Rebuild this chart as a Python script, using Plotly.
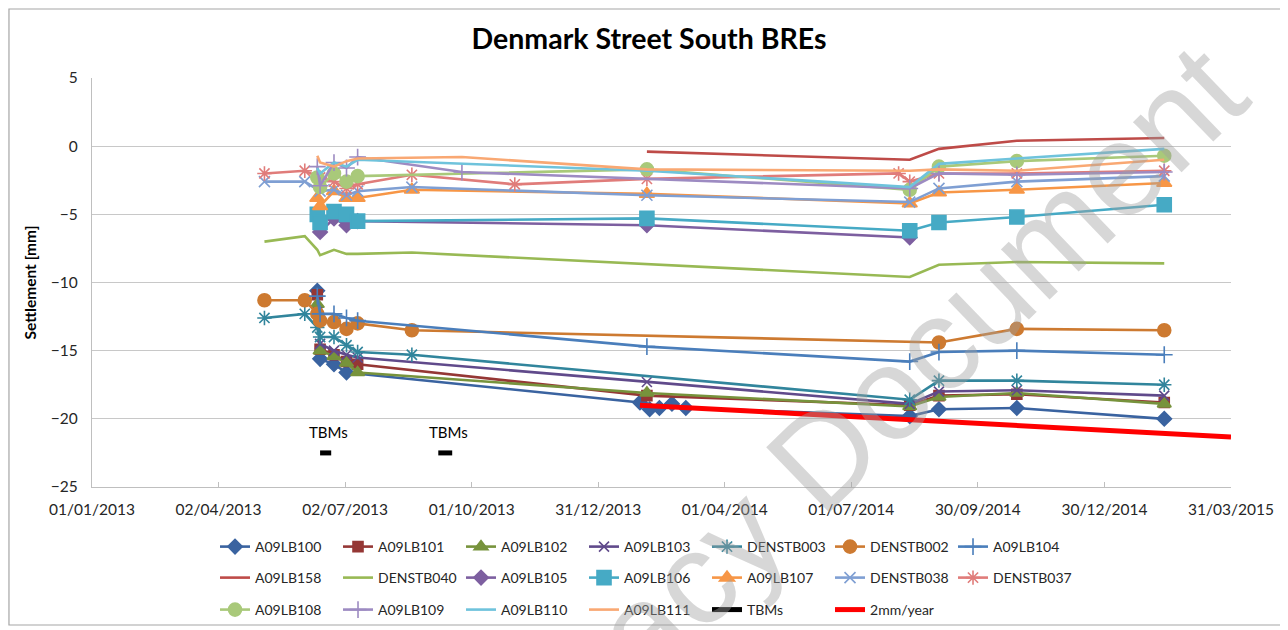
import plotly.graph_objects as go

# ---- dates (survey dates) ----
D0 = "2013-05-05"; D1 = "2013-06-03"; D2 = "2013-06-12"; D3 = "2013-06-14"
D4 = "2013-06-24"; D5 = "2013-07-03"; D6 = "2013-07-11"; D7 = "2013-08-19"
D7b = "2013-09-24"; D8 = "2013-11-01"; D9 = "2014-02-04"; D10 = "2014-08-12"
D11 = "2014-09-02"; D12 = "2014-10-28"; D13 = "2015-02-11"

# ---- series data (settlement in mm) ----
A09LB100_x = [D2, D3, D4, D5, "2014-01-30", "2014-02-06", "2014-02-13", "2014-02-22", "2014-03-04", D10, D11, D12, D13]
A09LB100_y = [-10.6, -15.6, -16.0, -16.6, -18.8, -19.3, -19.2, -18.9, -19.2, -19.8, -19.3, -19.2, -20.0]

A09LB101_x = [D2, D3, D4, D5, D6, D9, D10, D11, D12, D13]
A09LB101_y = [-10.9, -14.9, -15.3, -15.8, -16.0, -18.3, -19.0, -18.3, -18.2, -18.8]

A09LB102_x = [D2, D3, D4, D5, D6, D9, D10, D11, D12, D13]
A09LB102_y = [-11.6, -15.0, -15.4, -15.9, -16.6, -18.1, -19.1, -18.4, -18.1, -18.9]

A09LB103_x = [D2, D3, D4, D5, D6, D9, D10, D11, D12, D13]
A09LB103_y = [-12.2, -14.5, -15.0, -15.3, -15.5, -17.3, -18.9, -18.0, -17.9, -18.3]

DENSTB003_x = [D0, D1, D2, D3, D4, D5, D6, D7, D10, D11, D12, D13]
DENSTB003_y = [-12.6, -12.3, -13.3, -14.0, -14.0, -14.6, -15.1, -15.3, -18.6, -17.2, -17.2, -17.5]

DENSTB002_x = [D0, D1, D2, D3, D4, D5, D6, D7, D11, D12, D13]
DENSTB002_y = [-11.3, -11.3, -12.3, -12.8, -12.9, -13.4, -13.0, -13.5, -14.4, -13.4, -13.5]

A09LB104_x = [D2, D3, D4, D5, D6, D9, D10, D11, D12, D13]
A09LB104_y = [-11.0, -12.3, -12.3, -12.6, -12.8, -14.7, -15.8, -15.1, -15.0, -15.3]

A09LB158_x = [D9, D10, D11, D12, D13]
A09LB158_y = [-0.4, -1.0, -0.2, 0.4, 0.6]

DENSTB040_x = [D0, D1, D2, D3, D4, D5, D6, D7, D10, D11, D12, D13]
DENSTB040_y = [-7.0, -6.6, -7.6, -8.0, -7.6, -7.9, -7.9, -7.8, -9.6, -8.7, -8.5, -8.6]

A09LB105_x = [D3, D4, D5, D6, D9, D10]
A09LB105_y = [-6.3, -5.3, -5.8, -5.5, -5.8, -6.7]

A09LB106_x = [D2, D3, D4, D5, D6, D9, D10, D11, D12, D13]
A09LB106_y = [-5.0, -5.6, -4.8, -5.0, -5.5, -5.3, -6.2, -5.6, -5.2, -4.3]

A09LB107_x = [D2, D3, D4, D5, D6, D7, D9, D10, D11, D12, D13]
A09LB107_y = [-3.8, -4.4, -3.3, -3.8, -3.8, -3.2, -3.5, -4.2, -3.4, -3.2, -2.7]

DENSTB038_x = [D0, D1, D3, D4, D5, D6, D7, D9, D10, D11, D12, D13]
DENSTB038_y = [-2.6, -2.6, -3.3, -3.2, -3.6, -3.3, -3.0, -3.6, -4.1, -3.1, -2.6, -2.2]

DENSTB037_x = [D0, D1, D3, D4, D5, D6, D7, D8, D9, "2014-08-04", D10, D11, D12, D13]
DENSTB037_y = [-2.0, -1.8, -2.3, -2.6, -3.1, -2.8, -2.1, -2.8, -2.4, -2.0, -2.6, -2.0, -2.0, -1.8]

A09LB108_x = [D2, D3, D4, D5, D6, D9, D10, D11, D12, D13]
A09LB108_y = [-2.3, -3.0, -2.0, -2.6, -2.2, -1.7, -3.2, -1.5, -1.1, -0.7]

A09LB109_x = [D2, D3, D4, D5, D6, D7b, D10, D11, D12, D13]
A09LB109_y = [-1.5, -2.9, -1.2, -1.6, -0.8, -1.9, -3.1, -2.0, -2.1, -1.9]

A09LB110_x = [D2, D3, D4, D5, D6, D7b, D9, D10, D11, D12, D13]
A09LB110_y = [-1.6, -2.0, -1.2, -1.5, -1.0, -1.3, -1.8, -3.0, -1.3, -0.9, -0.2]

A09LB111_x = [D2, D3, D4, D5, D6, D7b, D9, D10, D11, D12, D13]
A09LB111_y = [-0.7, -1.2, -1.5, -1.1, -0.9, -0.8, -1.7, -1.8, -1.7, -1.8, -1.0]

TBMs_x = ["2013-06-14", "2013-06-22", None, "2013-09-07", "2013-09-17"]
TBMs_y = [-22.5, -22.5, None, -22.5, -22.5]

rate_x = ["2014-01-30", "2015-03-31"]
rate_y = [-19.0, -21.33]

tick_vals = ["2013-01-01", "2013-04-02", "2013-07-02", "2013-10-01", "2013-12-31",
             "2014-04-01", "2014-07-01", "2014-09-30", "2014-12-30", "2015-03-31"]
tick_text = ["01/01/2013", "02/04/2013", "02/07/2013", "01/10/2013", "31/12/2013",
             "01/04/2014", "01/07/2014", "30/09/2014", "30/12/2014", "31/03/2015"]

# ---- styles: (name, x, y, color, symbol, size, legend) ----
series = [
    ("A09LB100", A09LB100_x, A09LB100_y, "#3A63A0", "diamond", 11, "legend"),
    ("A09LB101", A09LB101_x, A09LB101_y, "#953735", "square", 10, "legend"),
    ("A09LB102", A09LB102_x, A09LB102_y, "#77933C", "triangle-up", 12, "legend"),
    ("A09LB103", A09LB103_x, A09LB103_y, "#604A8B", "x-thin-open", 10, "legend"),
    ("DENSTB003", DENSTB003_x, DENSTB003_y, "#31859C", "asterisk-open", 12, "legend"),
    ("DENSTB002", DENSTB002_x, DENSTB002_y, "#CD7A31", "circle", 13, "legend"),
    ("A09LB104", A09LB104_x, A09LB104_y, "#4A7EBB", "cross-thin-open", 12, "legend"),
    ("A09LB158", A09LB158_x, A09LB158_y, "#BE4B48", None, 0, "legend2"),
    ("DENSTB040", DENSTB040_x, DENSTB040_y, "#98B954", None, 0, "legend2"),
    ("A09LB105", A09LB105_x, A09LB105_y, "#7D5FA0", "diamond", 11, "legend2"),
    ("A09LB106", A09LB106_x, A09LB106_y, "#46AAC5", "square", 14, "legend2"),
    ("A09LB107", A09LB107_x, A09LB107_y, "#F79646", "triangle-up", 13, "legend2"),
    ("DENSTB038", DENSTB038_x, DENSTB038_y, "#7F9FD3", "x-thin-open", 11, "legend2"),
    ("DENSTB037", DENSTB037_x, DENSTB037_y, "#E07C7A", "asterisk-open", 12, "legend2"),
    ("A09LB108", A09LB108_x, A09LB108_y, "#A9C97A", "circle", 13, "legend3"),
    ("A09LB109", A09LB109_x, A09LB109_y, "#9D8BC2", "cross-thin-open", 12, "legend3"),
    ("A09LB110", A09LB110_x, A09LB110_y, "#6FC3DC", None, 0, "legend3"),
    ("A09LB111", A09LB111_x, A09LB111_y, "#F9A873", None, 0, "legend3"),
]

fig = go.Figure()
for name, xs, ys, col, sym, sz, lg in series:
    if sym is None:
        fig.add_trace(go.Scatter(x=xs, y=ys, name=name, mode="lines",
                                 line=dict(color=col, width=2.6), legend=lg))
    else:
        fig.add_trace(go.Scatter(x=xs, y=ys, name=name, mode="lines+markers",
                                 line=dict(color=col, width=2.6),
                                 marker=dict(symbol=sym, size=sz, color=col,
                                             line=dict(color=col, width=1.6)),
                                 legend=lg))

fig.add_trace(go.Scatter(x=TBMs_x, y=TBMs_y, name="TBMs", mode="lines",
                         line=dict(color="black", width=5), legend="legend3"))
fig.add_trace(go.Scatter(x=rate_x, y=rate_y, name="2mm/year", mode="lines",
                         line=dict(color="#FF0000", width=5), legend="legend3"))

FONT = "Lato, 'Open Sans', sans-serif"
legend_common = dict(orientation="h", xref="paper", yref="paper", x=0.108,
                     xanchor="left", yanchor="middle", entrywidth=78,
                     font=dict(family=FONT, size=14, color="#262626"),
                     bgcolor="rgba(0,0,0,0)", itemclick=False)

# The page body adds an 8px margin, so the figure is 8px smaller than the window
fig.update_layout(
    width=1280, height=622,
    paper_bgcolor="white", plot_bgcolor="white",
    margin=dict(l=84, r=57, t=70, b=143, autoexpand=False),
    font=dict(family=FONT, size=15, color="#262626"),
    title=dict(text="<b>Denmark Street South BREs</b>", x=0.5008, xref="container",
               y=1 - 31 / 622, yref="container", xanchor="center", yanchor="middle",
               font=dict(family=FONT, size=28.5, color="black")),
    xaxis=dict(type="date", range=["2013-01-01", "2015-03-31"],
               tickvals=tick_vals, ticktext=tick_text, showgrid=False,
               showline=True, linecolor="#BFBFBF", linewidth=1.3,
               ticks="inside", ticklen=5, tickcolor="#BFBFBF",
               tickfont=dict(family=FONT, size=15.5, color="#262626"),
               ticklabelstandoff=8, zeroline=False),
    yaxis=dict(range=[-25, 5], dtick=5, showgrid=True, gridcolor="#C8C8C8",
               gridwidth=1.3, showline=True, linecolor="#BFBFBF", linewidth=1.3,
               ticks="", zeroline=False,
               tickfont=dict(family=FONT, size=15.5, color="#262626"),
               ticklabelstandoff=10,
               title=dict(text="<b>Settlement [mm]</b>", standoff=10,
                          font=dict(family=FONT, size=15.5, color="black"))),
    legend=dict(legend_common, y=-0.1467),
    legend2=dict(legend_common, y=-0.2225),
    legend3=dict(legend_common, y=-0.3007),
    showlegend=True,
)

# TBM labels
for xl in ["2013-06-20", "2013-09-14"]:
    fig.add_annotation(x=xl, y=-20.95, xref="x", yref="y", text="TBMs", showarrow=False,
                       font=dict(family=FONT, size=15, color="black"))

# chart border
fig.add_shape(type="rect", xref="paper", yref="paper", x0=-0.0729, x1=1.0439,
              y0=-0.3374, y1=1.1687, line=dict(color="#A6A6A6", width=1.2), layer="below")

# watermark
fig.add_annotation(xref="paper", yref="paper", x=0.657, y=0.118, text="Legacy Document",
                   showarrow=False, textangle=-44, xanchor="center", yanchor="middle",
                   font=dict(family="'Liberation Sans', Arial, sans-serif", size=132,
                             color="rgba(160,160,160,0.42)"))

fig.write_html("out.html")
